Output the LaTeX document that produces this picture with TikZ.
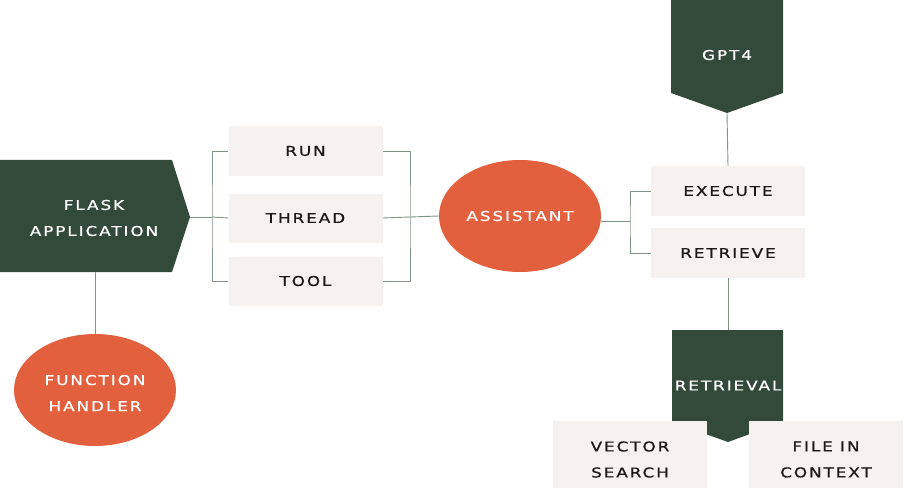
\documentclass[tikz,border=0pt]{standalone}
\usepackage{fontspec}
\usetikzlibrary{shapes.geometric}
\setmainfont{DejaVu Sans}[FakeStretch=1.25,LetterSpace=14,FakeBold=0.8]
\definecolor{dkgreen}{HTML}{334A3A}
\definecolor{orng}{HTML}{E2603D}
\definecolor{boxbg}{HTML}{F5F2EF}
\definecolor{lnc}{HTML}{7F9484}
\definecolor{txt}{HTML}{1A1A1A}
\begin{document}
\begin{tikzpicture}[x=1pt,y=-1pt,
  lbl/.style={font=\fontsize{13.5}{26}\selectfont, align=center, inner sep=0pt},
  wlbl/.style={lbl, text=white},
  gbox/.style={lbl, text=txt, fill=boxbg, draw=none, minimum width=154pt},
  oval/.style={ellipse, fill=orng, draw=none, minimum width=162pt, minimum height=112pt, wlbl},
  conn/.style={draw=lnc, line width=0.9pt}]
\useasboundingbox (0,0) rectangle (904,489);

% Flask application (pentagon pointing right)
\fill[dkgreen] (0,160) -- (172,160) -- (190,217) -- (172,272) -- (0,272) -- cycle;
\coordinate (flasktip) at (190,217);
\coordinate (flaskbot) at (95,272);
\node[wlbl] (flask) at (94,218) {FLASK\\APPLICATION};

% GPT4 (pentagon pointing down)
\fill[dkgreen] (671,0) -- (783,0) -- (783,93) -- (727,113) -- (671,93) -- cycle;
\coordinate (gpttip) at (727,113);
\node[wlbl] (gpt) at (727,55) {GPT4};

% Retrieval (pentagon pointing down)
\fill[dkgreen] (672,330) -- (783,330) -- (783,422) -- (728,442) -- (672,422) -- cycle;
\coordinate (rtop) at (728,330);
\node[wlbl] (retrieval) at (728,385.5) {RETRIEVAL};

% boxes
\node[gbox, minimum height=50pt] (run) at (305.5,151) {RUN};
\node[gbox, minimum height=49pt] (thread) at (305.5,218) {THREAD};
\node[gbox, minimum height=49pt] (tool) at (305.5,281) {TOOL};
\node[gbox, minimum height=50pt] (execute) at (728,191) {EXECUTE};
\node[gbox, minimum height=50pt] (retrieve) at (728,253) {RETRIEVE};
\node[gbox, minimum height=67pt] (vector) at (630,454.5) {};
\node[lbl, text=txt] (vectort) at (630,459.5) {VECTOR\\SEARCH};
\node[gbox, minimum height=67pt] (file) at (826,454.5) {};
\node[lbl, text=txt] (filet) at (826,459.5) {FILE IN\\CONTEXT};

% ellipses
\node[oval] (assistant) at (520,216) {ASSISTANT};
\node[oval] (handler) at (95,390) {};
\node[wlbl] (handlert) at (95,393) {FUNCTION\\HANDLER};

% left bracket
\coordinate (lb) at (212,217);
\draw[conn] (flasktip) -- (lb);
\draw[conn] (run.west) -| (lb) |- (tool.west);
\draw[conn] (lb) -- (thread.west);

% right bracket
\coordinate (rb) at (410,217);
\draw[conn] (run.east) -| (rb) |- (tool.east);
\draw[conn] (thread.east) -- (rb) -- (assistant.west);

% assistant to execute/retrieve
\coordinate (ab) at (630,221);
\draw[conn] (assistant.east |- ab) -- (ab);
\draw[conn] (execute.west) -| (ab) |- (retrieve.west);

% vertical links
\draw[conn] (gpttip) -- (execute.north);
\draw[conn] (retrieve.south) -- (rtop);
\draw[conn] (flaskbot) -- (handler.north);
\end{tikzpicture}
\end{document}
